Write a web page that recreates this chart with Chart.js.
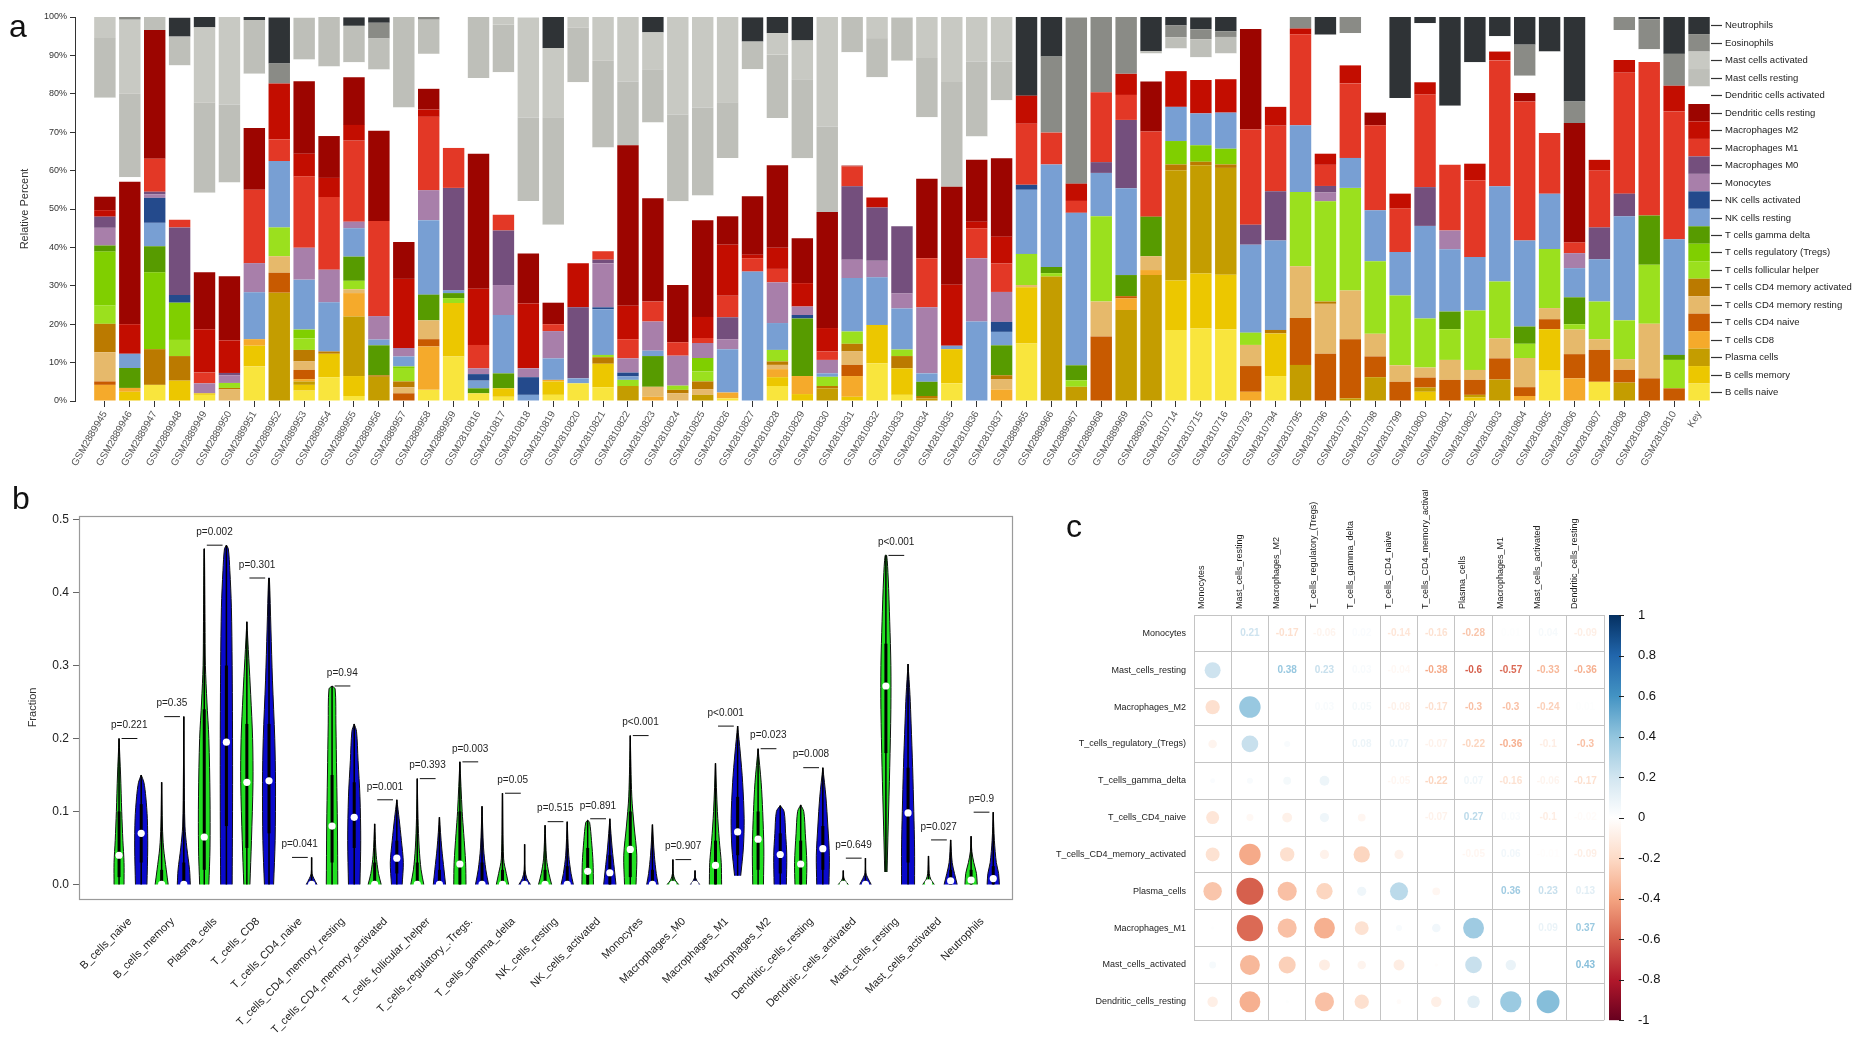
<!DOCTYPE html>
<html>
<head>
<meta charset="utf-8">
<script src="https://cdn.jsdelivr.net/npm/chart.js@4.4.1/dist/chart.umd.min.js"></script>
<style>
  body { margin: 0; background: #fff; width: 1866px; height: 1054px; overflow: hidden; font-family: "Liberation Sans", Arial, sans-serif; }
  .panel { position: absolute; }
  .tag { position: absolute; font-size: 32px; color: #111; line-height: 1; }
</style>
</head>
<body>
<div class="panel" style="left:0;top:0;width:1866px;height:481px"><canvas id="cellChart"></canvas></div>
<div class="panel" style="left:0;top:490px;width:1040px;height:564px"><canvas id="violinChart"></canvas></div>
<div class="panel" style="left:1050px;top:490px;width:816px;height:564px"><canvas id="corrChart"></canvas></div>
<div class="tag" style="left:9px;top:10px">a</div>
<div class="tag" style="left:12px;top:482px">b</div>
<div class="tag" style="left:1066px;top:510px">c</div>
<script>
// ---------- panel a : CIBERSORT fractions per sample ----------
const samples = [
  'GSM2889945','GSM2889946','GSM2889947','GSM2889948','GSM2889949','GSM2889950','GSM2889951','GSM2889952',
  'GSM2889953','GSM2889954','GSM2889955','GSM2889956','GSM2889957','GSM2889958','GSM2889959',
  'GSM2810816','GSM2810817','GSM2810818','GSM2810819','GSM2810820','GSM2810821','GSM2810822','GSM2810823',
  'GSM2810824','GSM2810825','GSM2810826','GSM2810827','GSM2810828','GSM2810829','GSM2810830','GSM2810831',
  'GSM2810832','GSM2810833','GSM2810834','GSM2810835','GSM2810836','GSM2810837',
  'GSM2889965','GSM2889966','GSM2889967','GSM2889968','GSM2889969','GSM2889970',
  'GSM2810714','GSM2810715','GSM2810716',
  'GSM2810793','GSM2810794','GSM2810795','GSM2810796','GSM2810797','GSM2810798','GSM2810799','GSM2810800',
  'GSM2810801','GSM2810802','GSM2810803','GSM2810804','GSM2810805','GSM2810806','GSM2810807','GSM2810808',
  'GSM2810809','GSM2810810','Key'
];

const cellTypes = [
  'B cells naive','B cells memory','Plasma cells','T cells CD8','T cells CD4 naive','T cells CD4 memory resting',
  'T cells CD4 memory activated','T cells follicular helper','T cells regulatory (Tregs)','T cells gamma delta',
  'NK cells resting','NK cells activated','Monocytes','Macrophages M0','Macrophages M1','Macrophages M2',
  'Dendritic cells resting','Dendritic cells activated','Mast cells resting','Mast cells activated',
  'Eosinophils','Neutrophils'
];
const cellColors = [
  '#F9E53D','#ECC700','#C49D00','#F5AA2B','#C85A00','#E6B96B','#BB7A00','#9BE01E','#80CF00','#579B00',
  '#789FD3','#244A8C','#A87FAA','#744F7D','#E33826','#C30D00','#9C0500','#FFFFFF','#BEBFB9','#C8C9C3',
  '#8A8B86','#2F3336'
];

// percent per sample (groups: 2889945-59 | 2810816-37 | 2889965-70 | 2810714-16 | 2810793-810 | Key)
const bNaive = [0, 0, 4.2, 0, 1.6, 0, 9.0, 0, 2.7, 6.2, 1.3, 0, 0, 2.9, 11.6,
  2.0, 1.1, 0, 1.6, 4.6, 3.6, 0, 0, 0, 0, 0.7, 0, 3.9, 0, 0, 0, 9.8, 1.6, 0, 4.6, 0, 0,
  15, 0, 0, 0, 0, 0,  18.5, 18.9, 18.7,
  0, 6.5, 0, 0, 0, 0, 0, 0, 0, 0, 0, 0, 7.9, 0, 5.0, 0, 0, 0,  4.55];
const bMemory = [0, 2.4, 0, 5.3, 0.4, 0, 5.4, 0, 1.5, 6.1, 5.2, 0, 0, 0, 13.9,
  0, 2.2, 0, 3.5, 0, 6.1, 0, 0, 0, 0, 0, 0, 2.3, 1.8, 0, 1.1, 10, 6.9, 0, 8.9, 0, 0,
  14.6, 0, 0, 0, 0, 0,  12.9, 14.3, 14.2,
  0, 11.1, 0, 0, 0, 0, 0, 2.4, 0, 0.9, 0, 0, 10.8, 0, 0, 0, 0, 0,  4.55];
const plasma = [0, 0, 0, 0, 0, 0, 0, 28.2, 0.9, 0, 15.5, 6.3, 0, 0, 0,
  0, 0, 0, 0, 0, 0, 3.9, 0, 0, 1.6, 0, 0, 0, 0, 3.3, 0, 0, 0, 0.7, 0, 0, 0,
  0, 32.4, 3.7, 0, 23.7, 32.8,  28.7, 28.2, 27.8,
  0, 0, 9.4, 0, 0.7, 6.2, 0, 1.1, 0, 0.7, 5.6, 0, 0, 0, 0, 4.8, 0, 0,  4.55];
const cd8 = [4.2, 1.0, 0, 0, 0, 0, 1.7, 0, 0.6, 0, 6.1, 0, 0, 11.3, 0,
  0, 0, 0, 0.4, 0, 0, 0, 1.1, 0, 0, 1.5, 0, 2.1, 4.7, 0, 5.4, 0, 0, 0, 0, 0, 3.0,
  0, 0, 0, 0, 3.0, 1.3,  0, 0, 0,
  2.4, 0, 0, 0, 0, 0, 0, 0, 0, 0, 0, 1.3, 0, 5.9, 0, 0, 0, 0,  4.55];
const cd4Naive = [0.9, 0, 0, 0, 0, 0, 0, 5.2, 2.4, 0, 0, 0, 2.0, 1.9, 0,
  0, 0, 0, 0, 0, 0, 0, 0, 0, 0, 0, 0, 0, 0, 0, 2.9, 0, 0, 0, 0, 0, 0,
  0, 0, 0, 16.8, 0.6, 0,  0, 0, 0,
  6.7, 0, 12.2, 12.3, 15.4, 5.4, 5.0, 2.6, 5.5, 3.9, 5.5, 2.3, 2.6, 6.3, 8.3, 3.3, 5.9, 3.3,  4.55];
const cd4MemResting = [7.6, 0, 0, 0, 0, 3.0, 0, 4.3, 2.2, 0, 1.0, 0, 1.6, 4.9, 0,
  0, 0, 0, 0, 0, 0, 0, 2.6, 2.0, 1.5, 0, 0, 1.1, 0, 0, 3.5, 0, 0, 0, 0, 0, 2.6,
  0.6, 0, 0, 9.1, 0, 3.6,  0, 0, 0,
  5.5, 0, 13.5, 13, 12.7, 5.9, 4.3, 2.6, 5.2, 2.6, 5.2, 7.6, 2.9, 6.4, 2.8, 2.8, 14.2, 0,  4.55];
const cd4MemActivated = [7.4, 0, 9.3, 6.4, 0, 0.4, 0, 0, 3.0, 0.6, 0, 0.4, 1.5, 0, 0,
  0, 0, 0, 0, 0, 1.7, 0, 0, 0.9, 2.0, 0, 0, 0.9, 0, 0.6, 2.0, 0, 3.2, 0.6, 0, 0, 1.1,
  0, 0, 0, 0, 0, 0,  1.5, 0.9, 0.9,
  0, 0.9, 0, 0.6, 0, 0, 0, 0, 0, 0, 0, 0, 0, 0, 0, 0, 0, 0,  4.55];
const tfh = [4.8, 0, 0, 4.2, 0, 1.3, 0, 7.5, 3.0, 0, 2.2, 0, 3.5, 0, 1.3,
  0, 0, 0, 0, 0, 0.6, 1.6, 0, 1.1, 2.6, 0, 0, 3.0, 0, 2.4, 3.2, 0, 1.7, 0, 0, 0, 0,
  8.1, 0.9, 1.7, 22.2, 0, 0,  0, 0, 0,
  3.2, 0, 19.3, 26.1, 26.7, 18.9, 18.2, 12.8, 8.0, 15.5, 14.8, 3.7, 15.4, 1.4, 9.8, 10.1, 15.4, 7.4,  4.55];
const tregs = [14, 0, 20, 9.7, 0, 0, 0, 0, 2.3, 0, 0, 0, 0.4, 0, 0,
  0, 0, 0, 0, 0, 0, 0, 0, 0, 3.5, 0, 0, 0, 0, 0, 0, 0, 0, 0, 0, 0, 0,
  0, 0, 0, 0, 0, 0,  6.1, 4.3, 4.1,
  0, 0, 0, 0, 0, 0, 0, 0, 0, 0, 0, 0, 0, 0, 0, 0, 0, 0,  4.55];
const gammaDelta = [1.6, 5.2, 6.8, 0, 0, 0, 0, 0, 0, 0, 6.3, 7.8, 0, 6.7, 1.3,
  1.3, 3.9, 0, 0, 0, 0, 0, 8.0, 0, 0, 0, 0, 0, 15.0, 0, 0, 0, 0, 3.7, 0, 0, 7.8,
  0, 1.6, 3.9, 0, 5.5, 10.3,  0, 0, 0,
  0, 0, 0, 0, 0, 0, 0, 0, 4.6, 0, 0, 4.5, 0, 7.0, 0, 0, 12.8, 1.3,  4.55];
const nkResting = [0, 3.7, 6.1, 0, 0, 0, 12.2, 17.3, 13, 12.8, 7.4, 1.5, 2.6, 19.4, 0.7,
  2.0, 15.2, 1.6, 5.6, 1.3, 11.9, 0.9, 1.4, 0, 0, 11.3, 33.7, 7.0, 0, 0.9, 13.9, 12.4, 10.7, 2.2, 0.9, 20.7, 3.5,
  16.7, 26.7, 39.7, 11.3, 22.6, 0,  8.9, 8.3, 9.4,
  22.9, 23.3, 17.4, 0, 7.8, 13.3, 11.3, 24.1, 16.2, 13.9, 24.8, 22.4, 14.4, 7.6, 11.0, 27.1, 0, 30.1,  4.55];
const nkActivated = [0, 0, 6.5, 2.0, 0, 0, 0, 0, 0, 0, 0, 0, 0, 0, 0,
  1.7, 0, 4.6, 0, 0, 0.5, 1.0, 0, 0, 0, 0, 0, 0, 0.9, 0, 0, 0, 0, 0, 0, 0, 2.6,
  1.3, 0, 0, 0, 0, 0,  0, 0, 0,
  0, 0, 0, 0, 0, 0, 0, 0, 0, 0, 0, 0, 0, 0, 0, 0, 0, 0,  4.55];
const monocytes = [4.6, 0, 0.9, 0, 2.6, 2.0, 7.6, 0, 8.3, 8.5, 1.7, 6.1, 2.2, 7.8, 0,
  1.5, 7.8, 2.3, 7.1, 0, 11.5, 3.7, 7.6, 7.8, 3.9, 2.6, 0, 10.6, 2.2, 3.5, 4.8, 4.3, 3.9, 17.2, 0, 16.5, 7.8,
  0, 0, 0, 0, 0, 0,  0, 0, 0,
  0, 0, 0, 2.3, 0, 0, 0, 0, 4.9, 0, 0, 0, 0, 3.9, 0, 0, 0, 0,  4.55];
const macM0 = [2.9, 0, 0.7, 17.6, 0, 0.6, 0, 0, 0, 0, 0, 0, 0, 0, 26.7,
  0, 14.2, 0, 0, 18.5, 0.9, 0, 0, 0, 0, 5.7, 0, 0, 0, 0, 19.1, 13.9, 17.5, 0, 0, 0, 0,
  0, 0, 0, 2.8, 17.8, 0,  0, 0, 0,
  5.2, 12.8, 0, 1.7, 0, 0, 0, 10.1, 0, 0, 0, 0, 0, 0, 8.3, 5.9, 0, 0,  4.55];
const macM1 = [0, 0, 8.6, 2.0, 2.8, 0, 19.1, 5.6, 18.6, 18.9, 21.1, 24.8, 0, 19.1, 10.4,
  6.1, 4.1, 0, 1.8, 0, 2.2, 5.0, 5.2, 3.5, 1.3, 5.6, 3.5, 3.5, 0, 2.2, 5.2, 0, 0, 12.8, 0, 7.8, 7.4,
  15.9, 8.3, 3.1, 18.2, 6.5, 22.2,  0, 0, 0,
  24.8, 17.1, 23.7, 5.5, 19.4, 22.1, 11.3, 24.1, 17.1, 20.0, 32.8, 36.2, 15.8, 2.8, 14.8, 31.5, 40, 33.3,  4.55];
const macM2 = [1.7, 7.7, 0, 0, 11.3, 8.5, 0, 14.6, 5.9, 5.0, 4.1, 0, 18, 1.9, 0,
  14.6, 0, 16.9, 0, 11.5, 0, 8.7, 0, 0, 5.5, 13.3, 0.9, 5.5, 6.1, 6.1, 0, 2.6, 0, 0, 15.9, 1.7, 7.0,
  7.3, 0, 4.5, 0, 5.5, 0,  9.3, 8.7, 8.7,
  0, 4.9, 1.5, 2.9, 4.7, 0, 3.9, 3.2, 0, 4.3, 2.3, 0, 0, 0, 2.8, 3.3, 0, 6.7,  4.55];
const dcResting = [3.5, 37.1, 33.5, 0, 14.8, 16.7, 16.1, 0, 18.9, 10.9, 12.4, 23.5, 9.6, 5.4, 0,
  35.2, 0, 13, 5.6, 0, 0, 41.8, 26.9, 14.9, 25.2, 7.4, 15.2, 21.5, 11.7, 30.2, 0.2, 0, 0, 20.7, 25.5, 16.1, 20.4,
  0, 0, 0, 0, 0, 13.0,  0, 0, 0,
  26.2, 0, 0, 0, 0, 3.3, 0, 0, 0, 0, 0, 2.2, 0, 31.1, 0, 0, 0, 0,  4.55];
const dcActivated = [25.8, 1.2, 0, 40.2, 20.7, 24.4, 14.1, 0, 5.6, 18.1, 3.9, 15.9, 35, 9.1, 34.1,
  19.7, 37.1, 13.7, 20.3, 47.1, 27, 0, 19.7, 21.8, 6.4, 15.2, 33.1, 12.3, 20.8, 0, 29.5, 31.3, 43.1, 16, 0, 6.1, 15.1,
  0, 0, 0, 0, 0, 7.3,  5.9, 5.9, 6.7,
  3.1, 23.4, 0, 31, 8.4, 25.0, 24.9, 15.4, 15.4, 26.4, 4.0, 4.5, 21.2, 0, 37.2, 7.8, 3.3, 0,  4.55];
const mastResting = [15.5, 21.7, 3.5, 7.5, 23.5, 20.3, 14.0, 0, 10.9, 12.9, 9.5, 8.1, 23.7, 8.9, 0,
  15.9, 12.4, 21.7, 28, 14.2, 22.6, 16.6, 13.9, 22.6, 22.9, 14.5, 7.2, 16.5, 20.6, 22.3, 9.2, 10.2, 11.3, 15.4, 27.3, 19.5, 10.1,
  0, 0, 0, 0, 0, 0.6,  2.9, 4.7, 4.3,
  0, 0, 0, 0, 0, 0, 0, 0, 0, 0, 0, 0, 0, 0, 0, 0, 0, 0,  4.55];
const mastActivated = [5.5, 19.3, 0, 0, 19.6, 22.8, 0, 0, 0, 0, 0, 0, 0, 0, 0,
  0, 2.0, 26.1, 18, 2.8, 11.5, 16.8, 9.6, 25.4, 23.7, 22.2, 0, 5.6, 10.1, 28.5, 0, 5.5, 0, 10.7, 17, 11.6, 11.6,
  0, 0, 0, 0, 0, 0,  0, 0, 0,
  0, 0, 0, 0, 0, 0, 0, 0, 0, 0, 0, 0, 0, 0, 0, 0, 0, 0,  4.55];
const eosinophils = [0, 0.7, 0, 0, 0, 0, 0, 5.2, 0, 0, 0, 4.1, 0, 0.7, 0,
  0, 0, 0, 0, 0, 0, 0, 0, 0, 0, 0, 0, 0, 0, 0, 0, 0, 0, 0, 0, 0, 0,
  0, 19.8, 43.3, 19.6, 14.8, 0,  3.1, 2.6, 1.5,
  0, 0, 3.0, 0, 4.3, 0, 0, 0, 0, 0, 0, 8.1, 0, 5.6, 0, 3.5, 7.8, 8.3,  4.55];
const neutrophils = [0, 0, 0, 4.9, 2.8, 0, 0.8, 12.0, 0, 0, 2.2, 1.4, 0, 0, 0,
  0, 0, 0, 8.1, 0, 0, 0, 4.0, 0, 0, 0, 6.3, 4.2, 6.1, 0, 0, 0, 0, 0, 0, 0, 0,
  20.5, 10.4, 0, 0, 0, 8.9,  2.4, 3.1, 3.7,
  0, 0, 0, 4.6, 0, 0, 21.1, 1.6, 23.1, 11.8, 5.0, 7.2, 9.0, 22.0, 0, 0, 0.7, 9.6,  4.55];

const fractions = [bNaive, bMemory, plasma, cd8, cd4Naive, cd4MemResting, cd4MemActivated, tfh, tregs,
  gammaDelta, nkResting, nkActivated, monocytes, macM0, macM1, macM2, dcResting, dcActivated,
  mastResting, mastActivated, eosinophils, neutrophils];

// ---------- panel b : violin summaries (green vs blue group) ----------
const immuneCells = ['B_cells_naive','B_cells_memory','Plasma_cells','T_cells_CD8','T_cells_CD4_naive',
  'T_cells_CD4_memory_resting','T_cells_CD4_memory_activated','T_cells_follicular_helper',
  'T_cells_regulatory_.Tregs.','T_cells_gamma_delta','NK_cells_resting','NK_cells_activated','Monocytes',
  'Macrophages_M0','Macrophages_M1','Macrophages_M2','Dendritic_cells_resting','Dendritic_cells_activated',
  'Mast_cells_resting','Mast_cells_activated','Neutrophils'];
const pValues = ['p=0.221','p=0.35','p=0.002','p=0.301','p=0.041','p=0.94','p=0.001','p=0.393','p=0.003',
  'p=0.05','p=0.515','p=0.891','p<0.001','p=0.907','p<0.001','p=0.023','p=0.008','p=0.649','p<0.001',
  'p=0.027','p=0.9'];
// outline: [fraction, half width] from bottom to top
const greenShape = [
  [[0,0.13],[0.03,0.13],[0.06,0.1],[0.1,0.07],[0.15,0.04],[0.2,0]],
  [[0,0.17],[0.02,0.12],[0.05,0.05],[0.08,0.02],[0.14,0]],
  [[0,0.12],[0.05,0.15],[0.12,0.15],[0.2,0.12],[0.25,0.07],[0.3,0.03],[0.36,0.02],[0.46,0.005]],
  [[0,0.08],[0.06,0.12],[0.14,0.16],[0.2,0.15],[0.26,0.1],[0.31,0.05],[0.36,0]],
  [],
  [[0,0.15],[0.08,0.14],[0.15,0.12],[0.22,0.1],[0.268,0.08],[0.272,0]],
  [[0,0.17],[0.015,0.1],[0.04,0.04],[0.083,0]],
  [[0,0.17],[0.02,0.1],[0.05,0.05],[0.09,0.02],[0.145,0]],
  [[0,0.16],[0.03,0.15],[0.07,0.1],[0.1,0.06],[0.168,0]],
  [[0,0.16],[0.015,0.1],[0.035,0.03],[0.125,0]],
  [[0,0.17],[0.015,0.1],[0.035,0.04],[0.081,0]],
  [[0,0.15],[0.03,0.14],[0.06,0.1],[0.085,0.05],[0.088,0]],
  [[0,0.15],[0.04,0.17],[0.08,0.1],[0.12,0.04],[0.204,0]],
  [[0,0.15],[0.006,0.06],[0.015,0.01],[0.034,0]],
  [[0,0.16],[0.03,0.15],[0.06,0.1],[0.1,0.05],[0.166,0]],
  [[0,0.14],[0.05,0.15],[0.1,0.12],[0.14,0.08],[0.186,0]],
  [[0,0.15],[0.03,0.16],[0.07,0.12],[0.1,0.08],[0.109,0]],
  [[0,0.13],[0.005,0.05],[0.01,0.01],[0.019,0]],
  [[0.017,0.03],[0.08,0.06],[0.16,0.1],[0.24,0.13],[0.3,0.13],[0.36,0.1],[0.42,0.06],[0.451,0.02]],
  [[0,0.15],[0.007,0.06],[0.015,0.02],[0.039,0]],
  [[0,0.16],[0.015,0.14],[0.03,0.07],[0.045,0.02],[0.066,0]]
];
const blueShape = [
  [[0,0.15],[0.05,0.17],[0.09,0.16],[0.12,0.12],[0.14,0.07],[0.15,0]],
  [[0,0.17],[0.02,0.15],[0.05,0.08],[0.08,0.03],[0.15,0.01],[0.23,0]],
  [[0,0.15],[0.1,0.16],[0.2,0.16],[0.3,0.15],[0.38,0.13],[0.43,0.09],[0.46,0.05],[0.465,0]],
  [[0,0.12],[0.06,0.16],[0.14,0.17],[0.2,0.15],[0.28,0.09],[0.35,0.05],[0.42,0.01]],
  [[0,0.14],[0.008,0.06],[0.015,0.01],[0.037,0]],
  [[0,0.15],[0.06,0.17],[0.12,0.15],[0.17,0.1],[0.21,0.06],[0.22,0]],
  [[0,0.14],[0.03,0.17],[0.06,0.12],[0.09,0.06],[0.116,0]],
  [[0,0.16],[0.02,0.12],[0.05,0.06],[0.092,0]],
  [[0,0.17],[0.02,0.1],[0.05,0.04],[0.107,0]],
  [[0,0.15],[0.008,0.06],[0.02,0.01],[0.055,0]],
  [[0,0.16],[0.015,0.1],[0.04,0.04],[0.086,0]],
  [[0,0.16],[0.02,0.12],[0.05,0.06],[0.09,0]],
  [[0,0.15],[0.015,0.1],[0.04,0.05],[0.082,0]],
  [[0,0.12],[0.005,0.05],[0.01,0.01],[0.019,0]],
  [[0.012,0.08],[0.05,0.15],[0.09,0.17],[0.14,0.13],[0.18,0.07],[0.217,0]],
  [[0,0.16],[0.04,0.17],[0.07,0.14],[0.1,0.1],[0.108,0]],
  [[0,0.16],[0.04,0.17],[0.08,0.13],[0.12,0.08],[0.16,0]],
  [[0,0.15],[0.008,0.07],[0.016,0.01],[0.036,0]],
  [[0,0.17],[0.05,0.17],[0.1,0.15],[0.16,0.12],[0.22,0.08],[0.26,0.05],[0.302,0]],
  [[0,0.17],[0.015,0.1],[0.03,0.04],[0.061,0]],
  [[0,0.16],[0.015,0.14],[0.03,0.08],[0.06,0.03],[0.099,0]]
];
const greenMedian = [0.04, 0, 0.065, 0.14, null, 0.08, 0, 0, 0.028, 0, 0, 0.018, 0.048, 0, 0.026, 0.062, 0.028, 0, 0.272, 0.002, 0.006];
const blueMedian = [0.07, 0, 0.195, 0.142, 0, 0.092, 0.036, 0, 0, 0, 0, 0.016, 0, 0, 0.072, 0.041, 0.049, 0, 0.098, 0.005, 0.008];
const greenQ1 = [0.01, 0, 0.02, 0.05, 0, 0.03, 0, 0, 0, 0, 0, 0, 0.01, 0, 0, 0.02, 0, 0, 0.18, 0, 0];
const greenQ3 = [0.1, 0.02, 0.24, 0.22, 0, 0.15, 0.03, 0.03, 0.1, 0.02, 0.02, 0.05, 0.1, 0.005, 0.06, 0.1, 0.06, 0.003, 0.33, 0.006, 0.02];
const blueQ1 = [0.03, 0, 0.08, 0.07, 0, 0.05, 0.015, 0, 0, 0, 0, 0, 0, 0, 0.04, 0.015, 0.02, 0, 0.03, 0, 0];
const blueQ3 = [0.11, 0.03, 0.3, 0.22, 0.005, 0.14, 0.06, 0.02, 0.03, 0.005, 0.025, 0.04, 0.02, 0.004, 0.12, 0.07, 0.08, 0.005, 0.16, 0.02, 0.025];

// ---------- panel c : correlation matrix ----------
const corrNames = ['Monocytes','Mast_cells_resting','Macrophages_M2','T_cells_regulatory_(Tregs)',
  'T_cells_gamma_delta','T_cells_CD4_naive','T_cells_CD4_memory_activated','Plasma_cells',
  'Macrophages_M1','Mast_cells_activated','Dendritic_cells_resting'];
const corrMonocytes      = [1, 0.21, -0.17, -0.06, 0.02, -0.14, -0.16, -0.28, 0.01, 0.04, -0.09];
const corrMastResting    = [0.21, 1, 0.38, 0.23, 0.03, -0.04, -0.38, -0.6, -0.57, -0.33, -0.36];
const corrMacM2          = [-0.17, 0.38, 1, 0.03, 0.05, -0.08, -0.17, -0.3, -0.3, -0.24, 0.01];
const corrTregs          = [-0.06, 0.23, 0.03, 1, 0.08, 0.07, -0.07, -0.22, -0.36, -0.1, -0.3];
const corrGammaDelta     = [0.02, 0.03, 0.05, 0.08, 1, -0.05, -0.22, 0.07, -0.16, -0.06, -0.17];
const corrCD4Naive       = [-0.14, -0.04, -0.08, 0.07, -0.05, 1, -0.07, 0.27, 0.03, -0.1, -0.02];
const corrCD4MemAct      = [-0.16, -0.38, -0.17, -0.07, -0.22, -0.07, 1, -0.05, 0.06, -0.01, -0.09];
const corrPlasma         = [-0.28, -0.6, -0.3, -0.22, 0.07, 0.27, -0.05, 1, 0.36, 0.23, 0.13];
const corrMacM1          = [0.01, -0.57, -0.3, -0.36, -0.16, 0.03, 0.06, 0.36, 1, 0.09, 0.37];
const corrMastActivated  = [0.04, -0.33, -0.24, -0.1, -0.06, -0.1, -0.01, 0.23, 0.09, 1, 0.43];
const corrDCResting      = [-0.09, -0.36, 0.01, -0.3, -0.17, -0.02, -0.09, 0.13, 0.37, 0.43, 1];
const corrRows = [corrMonocytes, corrMastResting, corrMacM2, corrTregs, corrGammaDelta, corrCD4Naive,
  corrCD4MemAct, corrPlasma, corrMacM1, corrMastActivated, corrDCResting];
const colorbarTicks = [-1, -0.8, -0.6, -0.4, -0.2, 0, 0.2, 0.4, 0.6, 0.8, 1];

Chart.defaults.font.family = '"Liberation Sans", Arial, Helvetica, sans-serif';
Chart.defaults.color = '#222';
Chart.defaults.animation = false;

// ================= panel a =================
const keyLabels = {
  id: 'keyLabels',
  afterDraw(chart) {
    const { ctx, chartArea, scales: { y } } = chart;
    const last = samples.length - 1;
    ctx.save();
    ctx.font = '9.5px "Liberation Sans", Arial, sans-serif';
    ctx.fillStyle = '#222';
    ctx.strokeStyle = '#333';
    ctx.lineWidth = 1.2;
    ctx.textBaseline = 'middle';
    let below = 0;
    cellTypes.forEach((name, k) => {
      const mid = below + fractions[k][last] / 2;
      below += fractions[k][last];
      const py = Math.round(y.getPixelForValue(mid)) + 0.5;
      ctx.beginPath();
      ctx.moveTo(chartArea.right - 1, py);
      ctx.lineTo(chartArea.right + 10, py);
      ctx.stroke();
      ctx.fillText(name, chartArea.right + 13, py);
    });
    ctx.restore();
  }
};

new Chart(document.getElementById('cellChart'), {
  type: 'bar',
  data: {
    labels: samples.map((s, i) => i),
    datasets: cellTypes.map((name, k) => ({
      label: name,
      data: fractions[k],
      backgroundColor: cellColors[k],
      borderWidth: 0,
      barPercentage: 0.86,
      categoryPercentage: 1
    }))
  },
  options: {
    responsive: true,
    maintainAspectRatio: false,
    layout: { padding: { top: 17, right: 154, bottom: 0, left: 0 } },
    plugins: { legend: { display: false }, tooltip: { enabled: false } },
    scales: {
      x: {
        type: 'linear', stacked: true, min: -1.2, max: 64.52, offset: false,
        afterBuildTicks: s => { s.ticks = samples.map((n, i) => ({ value: i })); },
        afterFit: s => { s.height = 80; },
        grid: { display: true, offset: false, drawOnChartArea: false, drawTicks: true, tickLength: 6, color: '#333' },
        border: { display: false },
        ticks: { autoSkip: false, minRotation: 60, maxRotation: 60, padding: 2, font: { size: 10 }, color: '#555',
          callback: v => samples[v] ?? '' }
      },
      y: {
        stacked: true, min: 0, max: 100,
        afterFit: s => { s.width = 75; },
        ticks: { stepSize: 10, callback: v => v + '%', font: { size: 9 }, color: '#333', padding: 3 },
        grid: { drawOnChartArea: false, tickLength: 5, color: '#333' },
        border: { display: true, color: '#333' },
        title: { display: true, text: 'Relative Percent', font: { size: 11 }, color: '#333', padding: { top: 18, bottom: 0 } }
      }
    }
  },
  plugins: [keyLabels]
});

// ================= panel b =================
const violinWidth = 0.9;
const violinSets = [];
const topOf = shape => shape.length ? shape[shape.length - 1][0] : 0;

function addViolin(i, offset, shape, color, median, q1, q3) {
  if (!shape.length) return;
  const cx = i + offset;
  const left = shape.map(([v, w]) => ({ x: cx - w * violinWidth, y: v }));
  const right = shape.slice().reverse().map(([v, w]) => ({ x: cx + w * violinWidth, y: v }));
  violinSets.push({ data: left.concat(right), borderColor: '#111', borderWidth: 1, backgroundColor: color,
    fill: 'shape', tension: 0.3, pointRadius: 0, order: 4 });
  violinSets.push({ data: [{ x: cx, y: shape[0][0] }, { x: cx, y: topOf(shape) }], borderColor: '#000',
    borderWidth: 1.5, pointRadius: 0, fill: false, tension: 0, order: 3 });
  violinSets.push({ data: [{ x: cx, y: q1 }, { x: cx, y: q3 }], borderColor: '#000', borderWidth: 3,
    pointRadius: 0, fill: false, tension: 0, order: 2 });
  violinSets.push({ data: [{ x: cx, y: median }], showLine: false, pointRadius: 3.6,
    pointBackgroundColor: '#fff', pointBorderWidth: 0, order: 1 });
}

immuneCells.forEach((name, i) => {
  addViolin(i, -0.26, greenShape[i], '#22E022', greenMedian[i], greenQ1[i], greenQ3[i]);
  addViolin(i, 0.26, blueShape[i], '#0A0ACC', blueMedian[i], blueQ1[i], blueQ3[i]);
  const top = Math.max(topOf(greenShape[i]), topOf(blueShape[i]));
  violinSets.push({ data: [{ x: i - 0.2, y: top }, { x: i + 0.17, y: top }], borderColor: '#111',
    borderWidth: 1, pointRadius: 0, fill: false, tension: 0, order: 3 });
});

const frameBox = {
  id: 'frameBox',
  beforeDatasetsDraw(chart) {
    const { ctx, chartArea: a } = chart;
    ctx.save();
    ctx.strokeStyle = '#9a9a9a';
    ctx.lineWidth = 1.2;
    ctx.strokeRect(a.left + 0.5, a.top + 0.5, a.right - a.left, a.bottom - a.top);
    ctx.restore();
  }
};
const pLabels = {
  id: 'pLabels',
  afterDatasetsDraw(chart) {
    const { ctx, scales: { x, y } } = chart;
    ctx.save();
    ctx.font = '10px "Liberation Sans", Arial, sans-serif';
    ctx.fillStyle = '#222';
    ctx.textAlign = 'center';
    ctx.textBaseline = 'bottom';
    immuneCells.forEach((name, i) => {
      const top = Math.max(topOf(greenShape[i]), topOf(blueShape[i]));
      ctx.fillText(pValues[i], x.getPixelForValue(i - 0.02), y.getPixelForValue(top) - 8);
    });
    ctx.restore();
  }
};

new Chart(document.getElementById('violinChart'), {
  type: 'line',
  data: { datasets: violinSets },
  options: {
    responsive: true,
    maintainAspectRatio: false,
    layout: { padding: { top: 26, right: 28, bottom: 0, left: 0 } },
    plugins: { legend: { display: false }, tooltip: { enabled: false } },
    scales: {
      x: {
        type: 'linear', min: -1.2, max: 20.7,
        afterBuildTicks: s => { s.ticks = immuneCells.map((n, i) => ({ value: i })); },
        afterFit: s => { s.height = 155; },
        grid: { display: false },
        border: { display: false },
        ticks: { autoSkip: false, minRotation: 45, maxRotation: 45, padding: 8, font: { size: 11 }, color: '#222',
          callback: v => immuneCells[v] ?? '' }
      },
      y: {
        min: -0.02, max: 0.505,
        afterBuildTicks: s => { s.ticks = [0, 0.1, 0.2, 0.3, 0.4, 0.5].map(v => ({ value: v })); },
        afterFit: s => { s.width = 79; },
        ticks: { callback: v => v.toFixed(1), font: { size: 12 }, color: '#222', padding: 4 },
        grid: { drawOnChartArea: false, tickLength: 6, color: '#666' },
        border: { display: false },
        title: { display: true, text: 'Fraction', font: { size: 11 }, color: '#333', padding: { top: 26, bottom: 0 } }
      }
    }
  },
  plugins: [frameBox, pLabels]
});

// ================= panel c =================
const rdbu = ['#67001F','#B2182B','#D6604D','#F4A582','#FDDBC7','#FFFFFF','#D1E5F0','#92C5DE','#4393C3','#2166AC','#053061'];
const hexRgb = h => [1, 3, 5].map(k => parseInt(h.slice(k, k + 2), 16));
function corrColor(v) {
  const t = Math.max(0, Math.min(10, (v + 1) * 5));
  const i = Math.min(9, Math.floor(t));
  const f = t - i;
  const a = hexRgb(rdbu[i]);
  const b = hexRgb(rdbu[i + 1]);
  return 'rgb(' + a.map((c, k) => Math.round(c + (b[k] - c) * f)).join(',') + ')';
}

const bubbles = [];
corrRows.forEach((row, i) => row.forEach((v, j) => {
  if (j < i) bubbles.push({ x: corrNames[j], y: corrNames[i], r: 17.4 * Math.sqrt(Math.abs(v)), v });
}));

const corrText = {
  id: 'corrText',
  afterDatasetsDraw(chart) {
    const { ctx, chartArea, scales: { x, y, y2 } } = chart;
    ctx.save();
    ctx.font = 'bold 10px "Liberation Sans Narrow", "Liberation Sans", Arial, sans-serif';
    ctx.textAlign = 'center';
    ctx.textBaseline = 'middle';
    corrRows.forEach((row, i) => row.forEach((v, j) => {
      if (j <= i) return;
      ctx.fillStyle = corrColor(v);
      ctx.fillText(String(v), x.getPixelForValue(j), y.getPixelForValue(i));
    }));
    // colour key
    const left = chartArea.right + 5, w = 12;
    const grad = ctx.createLinearGradient(0, y2.getPixelForValue(1), 0, y2.getPixelForValue(-1));
    rdbu.slice().reverse().forEach((c, k) => grad.addColorStop(k / 10, c));
    ctx.fillStyle = grad;
    ctx.fillRect(left, y2.getPixelForValue(1), w, y2.getPixelForValue(-1) - y2.getPixelForValue(1));
    ctx.strokeStyle = '#222';
    ctx.lineWidth = 1;
    colorbarTicks.forEach(v => {
      const py = Math.round(y2.getPixelForValue(v)) + 0.5;
      ctx.beginPath();
      ctx.moveTo(left + w - 2, py);
      ctx.lineTo(left + w + 3, py);
      ctx.stroke();
    });
    ctx.restore();
  }
};

new Chart(document.getElementById('corrChart'), {
  type: 'bubble',
  data: {
    datasets: [{
      data: bubbles,
      backgroundColor: c => corrColor(c.raw ? c.raw.v : 0),
      borderWidth: 0
    }]
  },
  options: {
    responsive: true,
    maintainAspectRatio: false,
    layout: { padding: { top: 0, right: 202, bottom: 29, left: 0 } },
    plugins: { legend: { display: false }, tooltip: { enabled: false } },
    scales: {
      x: {
        type: 'category', labels: corrNames, position: 'top', offset: true,
        afterFit: s => { s.height = 125; },
        grid: { offset: true, color: '#c4c4c4', drawTicks: false },
        border: { display: true, color: '#c4c4c4' },
        ticks: { autoSkip: false, minRotation: 90, maxRotation: 90, padding: 6, font: { size: 9 }, color: '#222' }
      },
      y: {
        type: 'category', labels: corrNames, offset: true,
        afterFit: s => { s.width = 144; },
        grid: { offset: true, color: '#c4c4c4', drawTicks: false },
        border: { display: true, color: '#c4c4c4' },
        ticks: { autoSkip: false, padding: 8, font: { size: 9 }, color: '#222' }
      },
      y2: {
        type: 'linear', position: 'right', min: -1, max: 1,
        afterBuildTicks: s => { s.ticks = colorbarTicks.map(v => ({ value: v })); },
        afterFit: s => { s.width = 60; },
        grid: { display: false },
        border: { display: false },
        ticks: { padding: 26, font: { size: 13 }, color: '#111', callback: v => String(Number(v.toFixed(1))) }
      }
    }
  },
  plugins: [corrText]
});
</script>
</body>
</html>
